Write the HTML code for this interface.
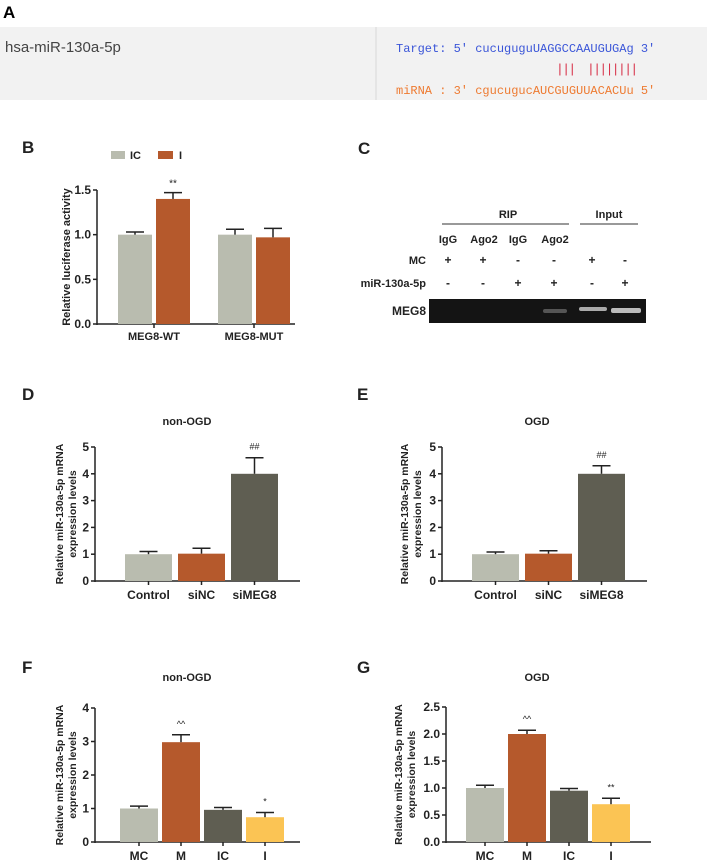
<!DOCTYPE html>
<html><head><meta charset="utf-8"><style>
html,body{margin:0;padding:0;background:#fff;width:707px;height:862px;overflow:hidden}
svg{display:block;font-family:"Liberation Sans",Arial,sans-serif}
</style></head><body>
<svg id="fig" width="707" height="862" viewBox="0 0 707 862">
<!-- Panel A -->
<text x="3" y="18" font-size="17" font-weight="bold">A</text>
<rect x="0" y="27" width="707" height="73" fill="#f2f2f2"/>
<line x1="376" y1="27" x2="376" y2="100" stroke="#d8d8d8"/>
<text x="5" y="52" font-size="15" fill="#444">hsa-miR-130a-5p</text>
<text x="396" y="52" font-size="12" font-family="Liberation Mono,monospace" fill="#3a55d8">Target: 5' cucuguguUAGGCCAAUGUGAg 3'</text>
<text x="556" y="73" font-size="13" font-family="Liberation Mono,monospace" fill="#d8324a" letter-spacing="-1.6">||| &#160;||||||||</text>
<text x="396" y="94" font-size="12" font-family="Liberation Mono,monospace" fill="#ee7a30">miRNA : 3' cgucugucAUCGUGUUACACUu 5'</text>

<!-- Panel C -->
<g font-weight="bold" font-size="11" fill="#222">
<text x="358" y="154" font-size="17">C</text>
<text x="508" y="218" text-anchor="middle">RIP</text>
<line x1="442" y1="224" x2="569" y2="224" stroke="#333"/>
<text x="609" y="218" text-anchor="middle">Input</text>
<line x1="580" y1="224" x2="638" y2="224" stroke="#333"/>
<text x="448" y="243" text-anchor="middle">IgG</text>
<text x="484" y="243" text-anchor="middle">Ago2</text>
<text x="518" y="243" text-anchor="middle">IgG</text>
<text x="555" y="243" text-anchor="middle">Ago2</text>
<text x="426" y="264" text-anchor="end">MC</text>
<text x="426" y="287" text-anchor="end">miR-130a-5p</text>
<g text-anchor="middle" font-size="12">
<text x="448" y="264">+</text><text x="483" y="264">+</text><text x="518" y="264">-</text><text x="554" y="264">-</text><text x="592" y="264">+</text><text x="625" y="264">-</text>
<text x="448" y="287">-</text><text x="483" y="287">-</text><text x="518" y="287">+</text><text x="554" y="287">+</text><text x="592" y="287">-</text><text x="625" y="287">+</text>
</g>
<text x="426" y="315" text-anchor="end" font-size="12">MEG8</text>
<rect x="429" y="299" width="217" height="24" fill="#141414"/>
<rect x="543" y="309" width="24" height="4" rx="2" fill="#555"/>
<rect x="579" y="307" width="28" height="4" rx="2" fill="#aaa"/>
<rect x="611" y="308" width="30" height="5" rx="2" fill="#bbb"/>
</g>
<g id="charts"></g>
</svg>
<script>
// Panel B data
const bCategories = ["MEG8-WT","MEG8-MUT"];
const bIC = [1.0, 1.0];
const bICErr = [0.03, 0.06];
const bI = [1.4, 0.97];
const bIErr = [0.07, 0.10];
const bTicks = ["0.0","0.5","1.0","1.5"];
// Panel D/E data
const deCategories = ["Control","siNC","siMEG8"];
const dValues = [1.0, 1.02, 4.0];
const dErr = [0.1, 0.2, 0.6];
const eValues = [1.0, 1.02, 4.0];
const eErr = [0.08, 0.11, 0.3];
const deTicks = ["0","1","2","3","4","5"];
// Panel F/G data
const fgCategories = ["MC","M","IC","I"];
const fValues = [1.0, 2.98, 0.96, 0.74];
const fErr = [0.07, 0.22, 0.07, 0.14];
const fTicks = ["0","1","2","3","4"];
const gValues = [1.0, 2.0, 0.95, 0.7];
const gErr = [0.05, 0.07, 0.04, 0.11];
const gTicks = ["0.0","0.5","1.0","1.5","2.0","2.5"];

const NS="http://www.w3.org/2000/svg";
const root=document.getElementById('charts');
const C={gray:"#b9bcaf",orange:"#b5592c",dark:"#5f5e52",yellow:"#fbc454"};
function mk(tag,attrs,parent){const e=document.createElementNS(NS,tag);for(const k in attrs)e.setAttribute(k,attrs[k]);(parent||root).appendChild(e);return e;}
function txt(x,y,s,size,anchor,parent,extra){const t=mk('text',Object.assign({x:x,y:y,'font-size':size,'font-weight':'bold','text-anchor':anchor||'middle',fill:'#222'},extra||{}),parent);t.textContent=s;return t;}

function axes(g,ax,y0,y1,xEnd,ticks,tickVals,yScale,ytitle,ytitle2,off){
  off=off||32;
  const ya=mk('line',{x1:ax,y1:y1,x2:ax,y2:y0+1,stroke:'#222','stroke-width':1.5},g);
  
  
  const xa=mk('line',{x1:ax,y1:y0,x2:xEnd,y2:y0,stroke:'#222','stroke-width':1.5},g);
  
  
  ticks.forEach((t,i)=>{const y=yScale(tickVals[i]);
    mk('line',{x1:ax-4,y1:y,x2:ax,y2:y,stroke:'#222','stroke-width':1.5},g);
    const tl=txt(ax-6,y+4,t,12,'end',g);
    
    });
  const cy=(y0+y1)/2;
  if(ytitle2){
    const t1=txt(0,0,ytitle,10.5,'middle',g,{transform:`translate(${ax-off},${cy}) rotate(-90)`});
    
    
    const t2=txt(0,0,ytitle2,10.5,'middle',g,{transform:`translate(${ax-off+13},${cy}) rotate(-90)`});
    
    
  } else {
    const t1=txt(0,0,ytitle,11,'middle',g,{transform:`translate(${ax-27},${cy}) rotate(-90)`});
    
    
  }
}
function bar(g,x,w,v,e,yScale,color,name){
  const y=yScale(v),y0=yScale(0);
  const r=mk('rect',{x:x,y:y,width:w,height:y0-y,fill:color},g);
  
  
  const ye=yScale(v+e),cx=x+w/2;
  const l=mk('line',{x1:cx,y1:y,x2:cx,y2:ye,stroke:'#222','stroke-width':1.5},g);
  
  
  mk('line',{x1:cx-9,y1:ye,x2:cx+9,y2:ye,stroke:'#222','stroke-width':1.5},g);
  return ye;
}

// Panel B
(function(){
  const g=mk('g',{});
  
  
  const y0=324,y1=190,max=1.5;const ys=v=>y0-(v/max)*(y0-y1);
  txt(22,153,"B",17,'start',g);
  axes(g,97,y0,y1,295,bTicks,[0,0.5,1,1.5],ys,"Relative luciferase activity");
  const lg1=mk('rect',{x:111,y:151,width:14,height:8,fill:C.gray},g);
  
  
  txt(130,159,"IC",11,'start',g);
  const lg2=mk('rect',{x:158,y:151,width:15,height:8,fill:C.orange},g);
  
  
  txt(179,159,"I",11,'start',g);
  const groupX=[118,218];
  bCategories.forEach((c,i)=>{
    bar(g,groupX[i],34,bIC[i],bICErr[i],ys,C.gray,'bar-ic-'+c.toLowerCase());
    const ye=bar(g,groupX[i]+38,34,bI[i],bIErr[i],ys,C.orange,'bar-i-'+c.toLowerCase());
    if(i===0)txt(groupX[i]+55,ye-6,"**",10,'middle',g,{'font-weight':'normal'});
    mk('line',{x1:groupX[i]+36,y1:y0,x2:groupX[i]+36,y2:y0+4,stroke:'#222','stroke-width':1.5},g);
    const xl=txt(groupX[i]+36,340,c,11,'middle',g);
    
    
  });
})();

function simple(opts){
  const g=mk('g',{});
  
  
  const ys=v=>opts.y0-(v/opts.max)*(opts.y0-opts.y1);
  txt(opts.lx,opts.ly,opts.label,17,'start',g);
  const tt=txt(opts.titleX,opts.titleY,opts.title,11,'middle',g);
  
  
  axes(g,opts.ax,opts.y0,opts.y1,opts.ax+205,opts.ticks,opts.ticks.map(Number),ys,"Relative miR-130a-5p mRNA","expression levels",opts.off);
  const w=opts.bw,gap=opts.gap;
  opts.cats.forEach((c,i)=>{
    const x=opts.start+i*(w+gap);
    const ye=bar(g,x,w,opts.vals[i],opts.errs[i],ys,opts.colors[i],'bar-'+c.toLowerCase());
    if(opts.marks[i])txt(x+w/2,ye-8,opts.marks[i],9,'middle',g,{'font-weight':'normal'});
    mk('line',{x1:x+w/2,y1:opts.y0,x2:x+w/2,y2:opts.y0+4,stroke:'#222','stroke-width':1.5},g);
    const xl=txt(x+w/2,opts.y0+18,c,12,'middle',g);
    
    
  });
}
simple({name:'non-ogd-sirna-chart',label:'D',lx:22,ly:400,title:'non-OGD',titleX:187,titleY:425,ax:95,y0:581,y1:447,max:5,ticks:deTicks,cats:deCategories,vals:dValues,errs:dErr,colors:[C.gray,C.orange,C.dark],marks:['','','##'],start:125,bw:47,gap:6,off:32});
simple({name:'ogd-sirna-chart',label:'E',lx:357,ly:400,title:'OGD',titleX:537,titleY:425,ax:442,y0:581,y1:447,max:5,ticks:deTicks,cats:deCategories,vals:eValues,errs:eErr,colors:[C.gray,C.orange,C.dark],marks:['','','##'],start:472,bw:47,gap:6,off:34});
simple({name:'non-ogd-mimic-chart',label:'F',lx:22,ly:673,title:'non-OGD',titleX:187,titleY:681,ax:95,y0:842,y1:708,max:4,ticks:fTicks,cats:fgCategories,vals:fValues,errs:fErr,colors:[C.gray,C.orange,C.dark,C.yellow],marks:['','^^','','*'],start:120,bw:38,gap:4,off:32});
simple({name:'ogd-mimic-chart',label:'G',lx:357,ly:673,title:'OGD',titleX:537,titleY:681,ax:446,y0:842,y1:707,max:2.5,ticks:gTicks,cats:fgCategories,vals:gValues,errs:gErr,colors:[C.gray,C.orange,C.dark,C.yellow],marks:['','^^','','**'],start:466,bw:38,gap:4,off:44});
</script>
</body></html>
